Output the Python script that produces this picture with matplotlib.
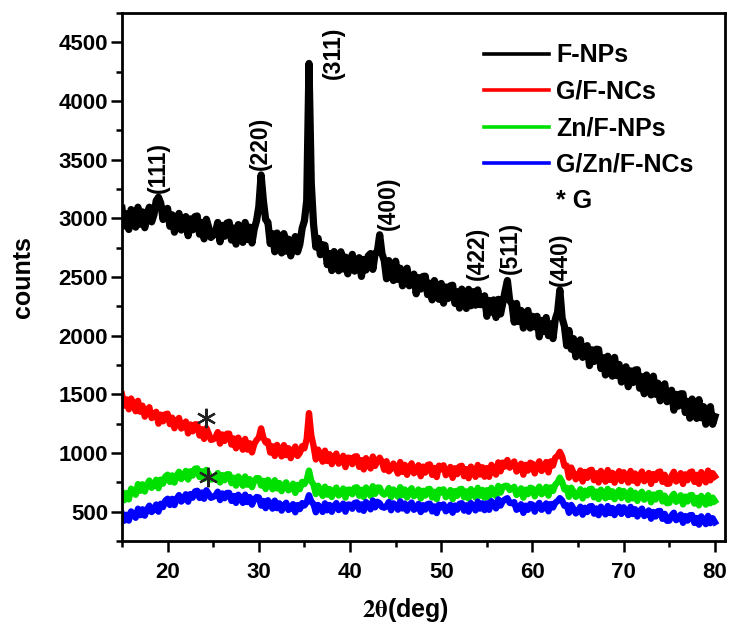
import matplotlib
matplotlib.use('Agg')
import matplotlib.pyplot as plt
from matplotlib.lines import Line2D
from matplotlib.ticker import MultipleLocator
import numpy as np

# XRD scans, counts every 0.25 deg from 15 to 80 deg (2-theta), 20 points per row
two_theta = np.linspace(15, 80, 261)

f_nps = [3085, 2935, 3040, 2905, 3075, 3010, 2925, 3095, 2950, 3055, 2920, 3035, 3095, 2970, 3030, 3150, 3180, 3130, 2990, 3075,
         3085, 2932, 3030, 2882, 2990, 3042, 2900, 2932, 3015, 2852, 2995, 2902, 3015, 3020, 2865, 2965, 2825, 2992, 2925, 2837,
         2855, 2885, 2965, 2800, 2940, 2847, 2960, 2967, 2815, 2917, 2780, 2947, 2880, 2795, 2965, 2820, 2925, 2790, 2910, 2980,
         3100, 3370, 3150, 2990, 2965, 2785, 2870, 2715, 2875, 2800, 2705, 2870, 2720, 2823, 2680, 2792, 2845, 2715, 2780, 2915,
         2980, 3150, 4320, 3300, 2950, 2755, 2830, 2690, 2775, 2770, 2605, 2700, 2555, 2717, 2645, 2553, 2715, 2568, 2670, 2527,
         2640, 2693, 2550, 2582, 2665, 2505, 2650, 2560, 2680, 2700, 2565, 2700, 2720, 2860, 2700, 2640, 2485, 2640, 2565, 2470,
         2635, 2480, 2575, 2425, 2530, 2575, 2425, 2450, 2525, 2357, 2495, 2397, 2505, 2507, 2350, 2447, 2305, 2470, 2400, 2310,
         2445, 2277, 2415, 2317, 2425, 2430, 2275, 2375, 2235, 2397, 2325, 2232, 2395, 2255, 2375, 2260, 2390, 2265, 2265, 2340,
         2165, 2300, 2200, 2305, 2155, 2310, 2185, 2280, 2380, 2470, 2300, 2270, 2115, 2275, 2120, 2215, 2065, 2170, 2215, 2065,
         2165, 2075, 2165, 1990, 2130, 2035, 2155, 2000, 2100, 1975, 2140, 2200, 2390, 2150, 2080, 1915, 2045, 1885, 1975, 1820,
         1920, 1965, 1815, 1840, 1915, 1745, 1880, 1780, 1885, 1882, 1720, 1812, 1665, 1825, 1750, 1655, 1815, 1660, 1755, 1605,
         1625, 1735, 1565, 1700, 1600, 1707, 1710, 1552, 1650, 1505, 1665, 1590, 1495, 1655, 1500, 1595, 1445, 1547, 1590, 1437,
         1460, 1535, 1365, 1500, 1400, 1505, 1505, 1345, 1440, 1297, 1460, 1387, 1295, 1455, 1300, 1395, 1245, 1350, 1395, 1245,
         1310]

g_f_ncs = [1500, 1404, 1457, 1372, 1464, 1415, 1356, 1445, 1352, 1403, 1310, 1366, 1390, 1298, 1311, 1351, 1250, 1327, 1270, 1330,
           1335, 1246, 1301, 1211, 1271, 1299, 1209, 1225, 1268, 1167, 1243, 1185, 1244, 1244, 1149, 1203, 1120, 1213, 1167, 1112,
           1117, 1134, 1178, 1080, 1158, 1103, 1164, 1165, 1072, 1124, 1040, 1131, 1085, 1028, 1120, 1029, 1083, 1005, 1076, 1110,
           1130, 1210, 1130, 1090, 1100, 1004, 1057, 975, 1069, 1025, 971, 1067, 982, 1041, 956, 1021, 1055, 975, 1001, 1058,
           1040, 1120, 1340, 1150, 1060, 945, 1029, 982, 926, 1020, 932, 990, 905, 966, 995, 909, 929, 976, 880, 960,
           958, 905, 969, 972, 882, 939, 860, 956, 915, 868, 970, 890, 935, 960, 925, 857, 930, 844, 864, 910,
           875, 825, 923, 839, 899, 814, 879, 912, 827, 848, 896, 802, 884, 833, 898, 903, 814, 873, 795, 892,
           861, 895, 811, 833, 881, 788, 870, 820, 885, 891, 802, 862, 785, 884, 845, 797, 898, 817, 879, 798,
           872, 797, 899, 862, 816, 920, 844, 918, 885, 940, 875, 901, 928, 842, 862, 909, 815, 899, 850, 917,
           908, 826, 894, 929, 847, 871, 923, 835, 928, 893, 960, 975, 1010, 970, 890, 892, 790, 876, 830, 776,
           804, 851, 757, 839, 788, 852, 857, 768, 827, 749, 847, 807, 756, 855, 771, 831, 747, 812, 845, 761,
           836, 797, 748, 847, 764, 825, 742, 808, 842, 759, 781, 830, 737, 820, 770, 836, 842, 754, 814, 737,
           740, 806, 840, 757, 779, 828, 736, 818, 768, 835, 842, 754, 814, 737, 837, 798, 750, 850, 767, 828,
           800]

zn_f_nps = [660, 598, 658, 605, 696, 675, 644, 735, 678, 733, 672, 732, 765, 703, 726, 772, 700, 773, 739, 799,
            815, 754, 809, 748, 809, 840, 778, 801, 847, 774, 844, 808, 866, 869, 796, 844, 780, 856, 820, 774,
            778, 792, 829, 749, 812, 768, 818, 819, 743, 789, 722, 800, 765, 721, 800, 730, 777, 709, 761, 786,
            785, 723, 763, 693, 771, 736, 691, 768, 698, 744, 675, 726, 750, 682, 698, 738, 660, 728, 692, 754,
            735, 770, 850, 760, 730, 650, 721, 682, 634, 713, 645, 693, 625, 679, 705, 638, 656, 697, 620, 687,
            687, 648, 703, 708, 636, 687, 625, 706, 675, 635, 717, 652, 705, 705, 660, 645, 661, 701, 623, 689,
            670, 628, 709, 641, 689, 621, 674, 700, 632, 649, 689, 612, 678, 637, 690, 694, 621, 670, 606, 687,
            664, 690, 624, 642, 684, 607, 675, 635, 690, 694, 623, 673, 611, 692, 662, 621, 703, 636, 686, 619,
            683, 621, 703, 673, 634, 720, 663, 710, 720, 720, 685, 694, 712, 643, 659, 699, 620, 688, 649, 704,
            697, 631, 686, 713, 648, 668, 711, 637, 707, 677, 730, 750, 790, 755, 690, 703, 627, 704, 670, 626,
            651, 691, 613, 679, 639, 692, 695, 622, 671, 607, 687, 655, 614, 694, 626, 674, 606, 659, 684, 616,
            676, 644, 601, 681, 613, 661, 592, 645, 670, 602, 619, 659, 580, 646, 604, 657, 660, 587, 636, 572,
            575, 628, 652, 584, 601, 640, 562, 628, 587, 639, 642, 569, 618, 554, 634, 602, 560, 640, 572, 620,
            590]

g_zn_f_ncs = [481, 423, 474, 424, 502, 479, 448, 525, 470, 520, 466, 520, 551, 497, 519, 561, 500, 567, 539, 594,
              610, 557, 609, 556, 612, 641, 586, 607, 648, 585, 650, 619, 672, 678, 617, 663, 610, 682, 654, 618,
              626, 638, 670, 599, 655, 615, 659, 660, 592, 633, 575, 644, 614, 575, 645, 582, 624, 560, 604, 625,
              621, 552, 591, 530, 597, 565, 526, 594, 530, 571, 509, 554, 576, 515, 529, 564, 495, 556, 522, 573,
              553, 580, 640, 585, 566, 495, 557, 531, 498, 571, 512, 557, 499, 548, 573, 514, 532, 568, 500, 560,
              560, 525, 574, 579, 517, 562, 507, 581, 554, 520, 595, 537, 584, 572, 540, 534, 547, 582, 512, 571,
              554, 517, 588, 527, 569, 508, 555, 578, 516, 531, 566, 497, 555, 518, 565, 568, 502, 545, 488, 559,
              537, 562, 503, 520, 558, 491, 552, 517, 567, 572, 509, 554, 500, 573, 546, 511, 585, 526, 571, 513,
              571, 516, 589, 562, 528, 605, 552, 590, 605, 615, 575, 572, 581, 516, 529, 563, 490, 551, 516, 565,
              559, 500, 550, 575, 516, 533, 570, 503, 565, 536, 577, 590, 615, 595, 550, 556, 490, 557, 524, 485,
              507, 542, 474, 533, 497, 544, 548, 483, 527, 470, 542, 513, 477, 548, 488, 531, 471, 518, 542, 481,
              537, 508, 471, 541, 480, 521, 459, 504, 526, 463, 477, 510, 440, 497, 459, 504, 506, 439, 481, 422,
              424, 469, 491, 428, 442, 475, 405, 462, 424, 469, 471, 404, 446, 389, 460, 431, 394, 464, 402, 444,
              410]

series_names = ['F-NPs', 'G/F-NCs', 'Zn/F-NPs', 'G/Zn/F-NCs']
series_colors = ['#000000', '#ff0000', '#00e000', '#0000ff']
series_widths = [5.2, 4.6, 4.6, 4.6]

# (hkl) reflections of the ferrite phase: label text, 2-theta, counts
hkl_labels = ['(111)', '(220)', '(311)', '(400)', '(422)', '(511)', '(440)']
hkl_x = [19.0, 30.2, 38.2, 44.2, 54.0, 57.6, 63.1]
hkl_y = [3430, 3640, 4415, 3130, 2700, 2745, 2650]

# graphene marks
star_x = [24.2, 24.4]
star_y = [1296, 796]

plt.rcParams['font.family'] = ['Liberation Sans', 'DejaVu Sans']
plt.rcParams['font.weight'] = 'bold'
plt.rcParams['mathtext.fontset'] = 'stix'

fig = plt.figure(figsize=(7.3, 6.29), dpi=100)
ax = fig.add_axes([0.1671, 0.1399, 0.8260, 0.8394])

# heavy strokes so the noisy scans read as filled bands
for ys, name, col, w in zip([f_nps, g_f_ncs, zn_f_nps, g_zn_f_ncs], series_names,
                            series_colors, series_widths):
    ax.plot(two_theta, ys, color=col, lw=w, solid_joinstyle='round', label=name)

for lab, x, y in zip(hkl_labels, hkl_x, hkl_y):
    ax.text(x, y, lab, rotation=90, ha='center', va='center', fontsize=16.5, fontweight='bold')

ax.plot(star_x, star_y, ls='none', marker=(6, 2, 0), markersize=14,
        markeredgewidth=1.6, color='#222222')

ax.set_xlim(15, 81.1)
ax.set_ylim(250, 4750)
ax.xaxis.set_major_locator(MultipleLocator(10))
ax.xaxis.set_minor_locator(MultipleLocator(5))
ax.yaxis.set_major_locator(MultipleLocator(500))
ax.yaxis.set_minor_locator(MultipleLocator(250))
ax.set_yticks(np.arange(500, 4501, 500))

ax.tick_params(which='both', direction='out', width=1.8, top=False, right=False)
ax.tick_params(which='major', length=8, labelsize=16)
ax.tick_params(axis='x', which='major', pad=7)
ax.tick_params(axis='y', which='major', pad=2)
ax.tick_params(which='minor', length=4)
for lab in ax.get_xticklabels() + ax.get_yticklabels():
    lab.set_fontweight('bold')
for sp in ax.spines.values():
    sp.set_linewidth(2)

ax.set_ylabel('counts', fontsize=18, fontweight='bold')
ax.yaxis.set_label_coords(-0.145, 0.5)
ax.set_xlabel(r'$\mathrm{2\theta}$(deg)', fontsize=18, fontweight='bold')
ax.xaxis.set_label_coords(0.47, -0.105)

handles = [Line2D([], [], color=c, lw=2.6) for c in series_colors]
handles.append(Line2D([], [], color='none'))
leg = ax.legend(handles, series_names + ['* G'], loc='upper right', frameon=False,
                fontsize=18, handlelength=2.6, handletextpad=0.3, labelspacing=0.5,
                bbox_to_anchor=(0.985, 0.985))
for t in leg.get_texts():
    t.set_fontweight('bold')

fig.savefig('out.png', dpi=100)
